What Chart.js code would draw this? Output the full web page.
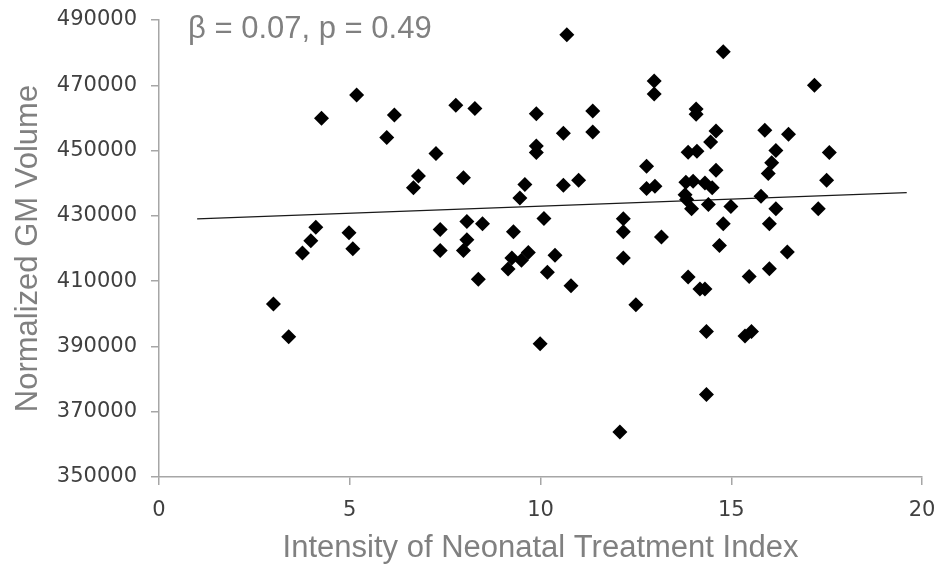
<!DOCTYPE html>
<html>
<head>
<meta charset="utf-8">
<script src="https://cdn.jsdelivr.net/npm/chart.js@4.4.1/dist/chart.umd.min.js"></script>
<style>
  html, body { margin: 0; padding: 0; background: #fff; }
  #wrap { width: 940px; height: 567px; position: relative; }
</style>
</head>
<body>
<div id="wrap"><canvas id="chartArea"></canvas></div>
<script>
// values
const treatmentIndex = [
  3.0, 3.4, 3.76, 3.98, 4.11, 4.26, 5.18, 4.98, 5.08, 5.97,
  6.17, 6.8, 6.67, 7.26, 7.78, 7.98, 7.37, 7.37, 7.98, 8.07,
  8.07, 8.28, 8.48, 8.37, 10.69, 14.79, 12.98, 12.98, 9.89, 11.37,
  11.37, 10.6, 9.89, 9.89, 14.08, 14.08, 14.6, 14.46, 13.87, 14.1,
  15.88, 16.17, 16.06, 15.97, 9.59, 9.46, 10.6, 11.0, 12.78, 12.78,
  13.0, 13.81, 14.0, 14.31, 14.5, 14.6, 13.79, 13.83, 13.96, 14.4,
  14.99, 15.78, 16.17, 10.09, 12.17, 12.17, 9.29, 13.17, 14.79, 16.0,
  14.69, 17.18, 16.5, 17.57, 17.5, 17.28, 16.47, 9.25, 9.15, 9.5,
  9.68, 10.38, 10.18, 10.8, 9.99, 12.17, 12.5, 12.08, 13.87, 14.18,
  14.31, 14.35, 14.35, 15.47, 16.0, 15.36, 15.53
];
const gmVolume = [
  403000, 393000, 418600, 422400, 426500, 459900, 467000, 424800, 419900, 454000,
  460900, 442200, 438600, 449100, 463900, 441700, 425800, 419400, 419400, 422700,
  428300, 462900, 427600, 410600, 485500, 480300, 471300, 467300, 461300, 462100,
  455700, 455300, 451400, 449400, 462700, 461100, 456000, 452600, 449500, 449800,
  456200, 450000, 446300, 443000, 439600, 435500, 439400, 440900, 445200, 438400,
  439100, 440300, 440600, 440100, 438600, 444000, 436500, 435000, 432200, 433500,
  432900, 436000, 432200, 429200, 429100, 425100, 425100, 423500, 427600, 427600,
  420900, 470000, 455000, 449400, 440900, 432200, 418900, 417100, 413700, 416400,
  418800, 417900, 412700, 408600, 390800, 417100, 402800, 363800, 411300, 407600,
  407600, 394600, 375300, 411400, 413800, 393200, 394600
];

// regression line end points
const fitX = [1, 19.6];
const fitY = [429100, 437100];

const xTickValues = [0, 5, 10, 15, 20];
const yTickValues = [350000, 370000, 390000, 410000, 430000, 450000, 470000, 490000];

const statsLabel = 'β = 0.07, p = 0.49';

const points = treatmentIndex.map((x, i) => ({ x: x, y: gmVolume[i] }));
const fitLine = fitX.map((x, i) => ({ x: x, y: fitY[i] }));

// stats text in the top left corner of the plot
const statsText = {
  id: 'statsText',
  afterDraw(chart) {
    const { ctx, chartArea } = chart;
    ctx.save();
    ctx.font = '31px "Liberation Sans", Arial, sans-serif';
    ctx.fillStyle = '#808080';
    ctx.textBaseline = 'alphabetic';
    ctx.fillText(statsLabel, chartArea.left + 29, chartArea.top + 18);
    ctx.restore();
  }
};

const axisGray = '#a6a6a6';
const tickFont = { family: '"DejaVu Sans", sans-serif', size: 21 };
const titleFont = { family: '"Liberation Sans", Arial, sans-serif', size: 31 };

const ctx = document.getElementById('chartArea');
new Chart(ctx, {
  type: 'scatter',
  data: {
    datasets: [
      {
        label: 'GM volume',
        data: points,
        pointStyle: 'rectRot',
        pointRadius: 7.5,
        pointHoverRadius: 7.5,
        backgroundColor: '#000',
        borderColor: '#000',
        borderWidth: 0,
      },
      {
        type: 'line',
        label: 'fit',
        data: fitLine,
        borderColor: '#1a1a1a',
        borderWidth: 1.2,
        pointRadius: 0,
        fill: false,
      }
    ]
  },
  options: {
    responsive: true,
    maintainAspectRatio: false,
    animation: false,
    events: [],
    layout: { padding: { top: 20, right: 18, left: 0, bottom: 0 } },
    plugins: {
      legend: { display: false },
      tooltip: { enabled: false },
    },
    scales: {
      x: {
        type: 'linear',
        min: 0,
        max: 20,
        afterBuildTicks: (scale) => { scale.ticks = xTickValues.map(v => ({ value: v })); },
        afterFit: (scale) => {
          scale.height = 90;
          scale.paddingLeft = 0;
          scale.paddingRight = 0;
        },
        border: { display: true, color: axisGray, width: 1.5 },
        grid: { drawOnChartArea: false, drawTicks: true, tickLength: 8, color: axisGray, lineWidth: 1.5 },
        ticks: { color: '#404040', font: tickFont, padding: 13, maxRotation: 0 },
        title: {
          display: true,
          text: 'Intensity of Neonatal Treatment Index',
          color: '#808080',
          font: titleFont,
          padding: { top: 4, bottom: 0 },
        },
      },
      y: {
        type: 'linear',
        min: 350000,
        max: 490000,
        afterBuildTicks: (scale) => { scale.ticks = yTickValues.map(v => ({ value: v })); },
        afterFit: (scale) => {
          scale.width = 159;
          scale.paddingTop = 0;
          scale.paddingBottom = 0;
        },
        border: { display: true, color: axisGray, width: 1.5 },
        grid: { drawOnChartArea: false, drawTicks: true, tickLength: 8, color: axisGray, lineWidth: 1.5 },
        ticks: { color: '#404040', font: tickFont, padding: 14, callback: (v) => String(v) },
        title: {
          display: true,
          text: 'Normalized GM Volume',
          color: '#808080',
          font: titleFont,
          padding: { top: 10, bottom: 4 },
        },
      }
    }
  },
  plugins: [statsText]
});
</script>
</body>
</html>
